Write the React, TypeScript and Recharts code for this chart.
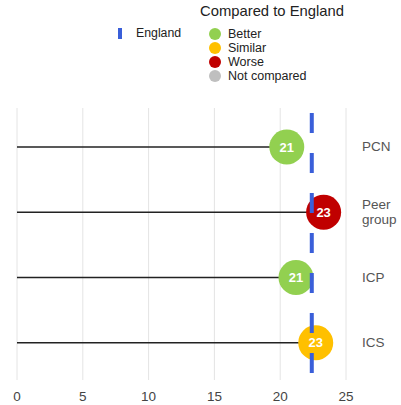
import {
  ComposedChart, Bar, XAxis, YAxis, CartesianGrid, ReferenceLine,
} from "recharts";

const categories = ["PCN", "Peer group", "ICP", "ICS"];
const values = [20.5, 23.3, 21.2, 22.7];
const comparisons = ["Better", "Worse", "Better", "Similar"];
const englandValue = 22.4;
const xTicks = [0, 5, 10, 15, 20, 25];

const legendItems = ["Better", "Similar", "Worse", "Not compared"];
const STATUS_COLORS: Record<string, string> = {
  Better: "#92d050",
  Similar: "#ffc000",
  Worse: "#c00000",
  "Not compared": "#bfbfbf",
};
const ENGLAND_COLOR = "#3a5fd9";
const FONT = "'Liberation Sans', Arial, sans-serif";

const data = categories.map((name, i) => ({
  name,
  value: values[i],
  label: Math.round(values[i]),
  status: comparisons[i],
}));

function Lollipop(props: any) {
  const { x, y, width, height, payload } = props;
  const cy = y + height / 2;
  const cx = x + width;
  return (
    <g>
      <line x1={x} y1={cy} x2={cx} y2={cy} stroke="#222" strokeWidth={1.6} />
      <circle cx={cx} cy={cy} r={17.5} fill={STATUS_COLORS[payload.status]} />
      <text x={cx} y={cy} dy="0.35em" textAnchor="middle" fill="#fff"
        fontSize={13} fontWeight="bold" fontFamily={FONT}>
        {payload.label}
      </text>
    </g>
  );
}

function CategoryTick({ x, y, payload }: any) {
  const words: string[] = payload.value.length > 6 ? payload.value.split(" ") : [payload.value];
  const lh = 15;
  const start = y - ((words.length - 1) * lh) / 2;
  return (
    <text x={x} y={start} textAnchor="start" fill="#555" fontSize={13.5} fontFamily={FONT}>
      {words.map((w, i) => (
        <tspan key={i} x={x} y={start + i * lh} dy="0.35em">{w}</tspan>
      ))}
    </text>
  );
}

function Legend() {
  return (
    <div style={{ position: "absolute", left: 0, top: 0, width: 401, height: 100, fontFamily: FONT, color: "#222" }}>
      <div style={{ position: "absolute", left: 118, top: 28, width: 4, height: 11, background: ENGLAND_COLOR }} />
      <div style={{ position: "absolute", left: 136, top: 26, fontSize: 12.3, lineHeight: "14px" }}>England</div>
      <div style={{ position: "absolute", left: 200, top: 3, fontSize: 14.8, lineHeight: "17px" }}>Compared to England</div>
      {legendItems.map((item, i) => (
        <div key={item} style={{ position: "absolute", left: 209, top: 26.5 + i * 14, height: 14, display: "flex", alignItems: "center" }}>
          <span style={{ width: 12, height: 12, borderRadius: 6, background: STATUS_COLORS[item], display: "inline-block" }} />
          <span style={{ marginLeft: 7, fontSize: 12.5, lineHeight: "14px" }}>{item}</span>
        </div>
      ))}
    </div>
  );
}

export default function App() {
  return (
    <div style={{ position: "relative", width: 401, height: 405, background: "#fff" }}>
      <style>{`body { margin: 0; }`}</style>
      <ComposedChart
        width={401}
        height={405}
        data={data}
        layout="vertical"
        margin={{ top: 108, right: 0, bottom: 0, left: 17 }}
      >
        <CartesianGrid horizontal={false} stroke="#e4e4e4" />
        <XAxis
          type="number"
          domain={[0, 25]}
          ticks={xTicks}
          axisLine={false}
          tickLine={false}
          tickMargin={5}
          height={25}
          tick={{ fontSize: 13.5, fill: "#444", fontFamily: FONT }}
        />
        <YAxis
          type="category"
          dataKey="name"
          orientation="right"
          width={55}
          axisLine={false}
          tickLine={false}
          tickMargin={10}
          padding={{ top: 6, bottom: 5 }}
          tick={<CategoryTick />}
        />
        <ReferenceLine
          x={englandValue}
          stroke={ENGLAND_COLOR}
          strokeWidth={4}
          strokeDasharray="20 20"
          strokeDashoffset={33}
        />
        <Bar dataKey="value" barSize={2} shape={<Lollipop />} isAnimationActive={false} />
      </ComposedChart>
      <Legend />
    </div>
  );
}
